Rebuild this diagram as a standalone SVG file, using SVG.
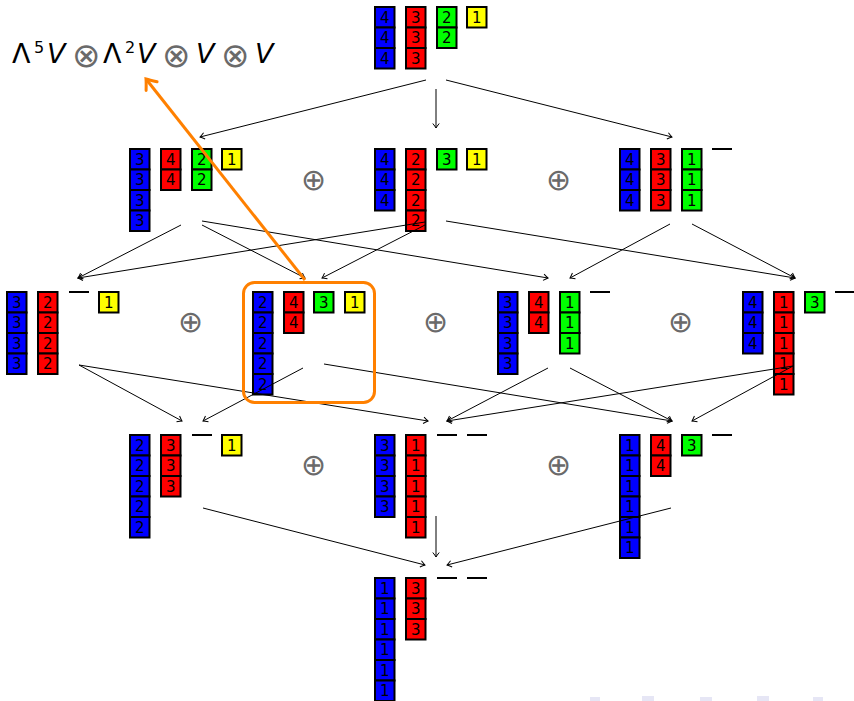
<svg xmlns="http://www.w3.org/2000/svg" width="854" height="701" viewBox="0 0 854 701">
  <defs>
    <style>
      .cell{stroke:#000;stroke-width:2}
      .b{fill:#0000ff}
      .r{fill:#ff0000}
      .g{fill:#00ff00}
      .y{fill:#ffff00}
      .n{font-family:"DejaVu Sans",sans-serif;font-size:15px;text-anchor:middle;fill:#000}
      .dash{stroke:#000;stroke-width:2}
      .edge{stroke:#000;stroke-width:1;fill:none;marker-end:url(#tip)}
      .sum{font-family:"DejaVu Sans",sans-serif;font-weight:200;font-size:30px;text-anchor:middle;fill:#6a6a6a}
      .f{font-family:"DejaVu Sans",sans-serif;font-size:27px;fill:#000}
      .ot{font-family:"DejaVu Sans",sans-serif;font-weight:200;font-size:34px;text-anchor:middle;fill:#6a6a6a}
      .hl{stroke:#ff8000;stroke-width:3;fill:none}
    </style>
    <marker id="tip" markerUnits="userSpaceOnUse" markerWidth="12" markerHeight="12" viewBox="-6 -6 12 12" refX="0" refY="0" orient="auto">
      <path d="M-4.5,-3.2 Q-1.6,-0.9 0,0 Q-1.6,0.9 -4.5,3.2" stroke="#000" stroke-width="1" fill="none"/>
    </marker>
    <marker id="otip" markerUnits="userSpaceOnUse" markerWidth="24" markerHeight="24" viewBox="-12 -12 24 24" refX="0" refY="0" orient="auto">
      <path d="M-9,-7 Q-3,-2 0,0 Q-3,2 -9,7" stroke="#ff8000" stroke-width="3" fill="none" stroke-linecap="round"/>
    </marker>
  </defs>

  <rect width="854" height="701" fill="#fff"/>

  <!-- formula label -->
  <g id="label">
    <text class="f" y="63"><tspan x="12">Λ</tspan><tspan x="34" y="53" font-size="16">5</tspan><tspan x="47" y="63" font-style="italic">V</tspan></text>
    <text class="ot" x="86" y="67">⊗</text>
    <text class="f" y="63"><tspan x="103">Λ</tspan><tspan x="125" y="53" font-size="16">2</tspan><tspan x="137" y="63" font-style="italic">V</tspan></text>
    <text class="ot" x="176" y="67">⊗</text>
    <text class="f" y="63" font-style="italic"><tspan x="196">V</tspan></text>
    <text class="ot" x="235" y="67">⊗</text>
    <text class="f" y="63" font-style="italic"><tspan x="255">V</tspan></text>
  </g>

  <!-- top: 444 | 333 | 22 | 1 -->
  <g id="n0" transform="translate(374,6)">
    <g><rect class="cell b" x="1" y="1" width="19.5" height="20.5"/><text class="n" x="10.75" y="16.5">4</text>
       <rect class="cell b" x="1" y="21.5" width="19.5" height="20.5"/><text class="n" x="10.75" y="37">4</text>
       <rect class="cell b" x="1" y="42" width="19.5" height="20.5"/><text class="n" x="10.75" y="57.5">4</text></g>
    <g transform="translate(31,0)"><rect class="cell r" x="1" y="1" width="19.5" height="20.5"/><text class="n" x="10.75" y="16.5">3</text>
       <rect class="cell r" x="1" y="21.5" width="19.5" height="20.5"/><text class="n" x="10.75" y="37">3</text>
       <rect class="cell r" x="1" y="42" width="19.5" height="20.5"/><text class="n" x="10.75" y="57.5">3</text></g>
    <g transform="translate(62,0)"><rect class="cell g" x="1" y="1" width="19.5" height="20.5"/><text class="n" x="10.75" y="16.5">2</text>
       <rect class="cell g" x="1" y="21.5" width="19.5" height="20.5"/><text class="n" x="10.75" y="37">2</text></g>
    <g transform="translate(92,0)"><rect class="cell y" x="1" y="1" width="19.5" height="20.5"/><text class="n" x="10.75" y="16.5">1</text></g>
  </g>

  <!-- second row -->
  <g id="n1a" transform="translate(129,148)">
    <g><rect class="cell b" x="1" y="1" width="19.5" height="20.5"/><text class="n" x="10.75" y="16.5">3</text>
       <rect class="cell b" x="1" y="21.5" width="19.5" height="20.5"/><text class="n" x="10.75" y="37">3</text>
       <rect class="cell b" x="1" y="42" width="19.5" height="20.5"/><text class="n" x="10.75" y="57.5">3</text>
       <rect class="cell b" x="1" y="62.5" width="19.5" height="20.5"/><text class="n" x="10.75" y="78">3</text></g>
    <g transform="translate(31,0)"><rect class="cell r" x="1" y="1" width="19.5" height="20.5"/><text class="n" x="10.75" y="16.5">4</text>
       <rect class="cell r" x="1" y="21.5" width="19.5" height="20.5"/><text class="n" x="10.75" y="37">4</text></g>
    <g transform="translate(62,0)"><rect class="cell g" x="1" y="1" width="19.5" height="20.5"/><text class="n" x="10.75" y="16.5">2</text>
       <rect class="cell g" x="1" y="21.5" width="19.5" height="20.5"/><text class="n" x="10.75" y="37">2</text></g>
    <g transform="translate(92,0)"><rect class="cell y" x="1" y="1" width="19.5" height="20.5"/><text class="n" x="10.75" y="16.5">1</text></g>
  </g>

  <g id="n1b" transform="translate(374,148)">
    <g><rect class="cell b" x="1" y="1" width="19.5" height="20.5"/><text class="n" x="10.75" y="16.5">4</text>
       <rect class="cell b" x="1" y="21.5" width="19.5" height="20.5"/><text class="n" x="10.75" y="37">4</text>
       <rect class="cell b" x="1" y="42" width="19.5" height="20.5"/><text class="n" x="10.75" y="57.5">4</text></g>
    <g transform="translate(31,0)"><rect class="cell r" x="1" y="1" width="19.5" height="20.5"/><text class="n" x="10.75" y="16.5">2</text>
       <rect class="cell r" x="1" y="21.5" width="19.5" height="20.5"/><text class="n" x="10.75" y="37">2</text>
       <rect class="cell r" x="1" y="42" width="19.5" height="20.5"/><text class="n" x="10.75" y="57.5">2</text>
       <rect class="cell r" x="1" y="62.5" width="19.5" height="20.5"/><text class="n" x="10.75" y="78">2</text></g>
    <g transform="translate(62,0)"><rect class="cell g" x="1" y="1" width="19.5" height="20.5"/><text class="n" x="10.75" y="16.5">3</text></g>
    <g transform="translate(92,0)"><rect class="cell y" x="1" y="1" width="19.5" height="20.5"/><text class="n" x="10.75" y="16.5">1</text></g>
  </g>

  <g id="n1c" transform="translate(619,148)">
    <g><rect class="cell b" x="1" y="1" width="19.5" height="20.5"/><text class="n" x="10.75" y="16.5">4</text>
       <rect class="cell b" x="1" y="21.5" width="19.5" height="20.5"/><text class="n" x="10.75" y="37">4</text>
       <rect class="cell b" x="1" y="42" width="19.5" height="20.5"/><text class="n" x="10.75" y="57.5">4</text></g>
    <g transform="translate(31,0)"><rect class="cell r" x="1" y="1" width="19.5" height="20.5"/><text class="n" x="10.75" y="16.5">3</text>
       <rect class="cell r" x="1" y="21.5" width="19.5" height="20.5"/><text class="n" x="10.75" y="37">3</text>
       <rect class="cell r" x="1" y="42" width="19.5" height="20.5"/><text class="n" x="10.75" y="57.5">3</text></g>
    <g transform="translate(62,0)"><rect class="cell g" x="1" y="1" width="19.5" height="20.5"/><text class="n" x="10.75" y="16.5">1</text>
       <rect class="cell g" x="1" y="21.5" width="19.5" height="20.5"/><text class="n" x="10.75" y="37">1</text>
       <rect class="cell g" x="1" y="42" width="19.5" height="20.5"/><text class="n" x="10.75" y="57.5">1</text></g>
    <line class="dash" x1="93" y1="1" x2="113" y2="1"/>
  </g>

  <!-- third row -->
  <g id="n2a" transform="translate(6,291)">
    <g><rect class="cell b" x="1" y="1" width="19.5" height="20.5"/><text class="n" x="10.75" y="16.5">3</text>
       <rect class="cell b" x="1" y="21.5" width="19.5" height="20.5"/><text class="n" x="10.75" y="37">3</text>
       <rect class="cell b" x="1" y="42" width="19.5" height="20.5"/><text class="n" x="10.75" y="57.5">3</text>
       <rect class="cell b" x="1" y="62.5" width="19.5" height="20.5"/><text class="n" x="10.75" y="78">3</text></g>
    <g transform="translate(31,0)"><rect class="cell r" x="1" y="1" width="19.5" height="20.5"/><text class="n" x="10.75" y="16.5">2</text>
       <rect class="cell r" x="1" y="21.5" width="19.5" height="20.5"/><text class="n" x="10.75" y="37">2</text>
       <rect class="cell r" x="1" y="42" width="19.5" height="20.5"/><text class="n" x="10.75" y="57.5">2</text>
       <rect class="cell r" x="1" y="62.5" width="19.5" height="20.5"/><text class="n" x="10.75" y="78">2</text></g>
    <line class="dash" x1="63" y1="1" x2="83" y2="1"/>
    <g transform="translate(92,0)"><rect class="cell y" x="1" y="1" width="19.5" height="20.5"/><text class="n" x="10.75" y="16.5">1</text></g>
  </g>

  <g id="n2b" transform="translate(252,291)">
    <g><rect class="cell b" x="1" y="1" width="19.5" height="20.5"/><text class="n" x="10.75" y="16.5">2</text>
       <rect class="cell b" x="1" y="21.5" width="19.5" height="20.5"/><text class="n" x="10.75" y="37">2</text>
       <rect class="cell b" x="1" y="42" width="19.5" height="20.5"/><text class="n" x="10.75" y="57.5">2</text>
       <rect class="cell b" x="1" y="62.5" width="19.5" height="20.5"/><text class="n" x="10.75" y="78">2</text>
       <rect class="cell b" x="1" y="83" width="19.5" height="20.5"/><text class="n" x="10.75" y="98.5">2</text></g>
    <g transform="translate(31,0)"><rect class="cell r" x="1" y="1" width="19.5" height="20.5"/><text class="n" x="10.75" y="16.5">4</text>
       <rect class="cell r" x="1" y="21.5" width="19.5" height="20.5"/><text class="n" x="10.75" y="37">4</text></g>
    <g transform="translate(61,0)"><rect class="cell g" x="1" y="1" width="19.5" height="20.5"/><text class="n" x="10.75" y="16.5">3</text></g>
    <g transform="translate(92,0)"><rect class="cell y" x="1" y="1" width="19.5" height="20.5"/><text class="n" x="10.75" y="16.5">1</text></g>
  </g>

  <g id="n2c" transform="translate(497,291)">
    <g><rect class="cell b" x="1" y="1" width="19.5" height="20.5"/><text class="n" x="10.75" y="16.5">3</text>
       <rect class="cell b" x="1" y="21.5" width="19.5" height="20.5"/><text class="n" x="10.75" y="37">3</text>
       <rect class="cell b" x="1" y="42" width="19.5" height="20.5"/><text class="n" x="10.75" y="57.5">3</text>
       <rect class="cell b" x="1" y="62.5" width="19.5" height="20.5"/><text class="n" x="10.75" y="78">3</text></g>
    <g transform="translate(31,0)"><rect class="cell r" x="1" y="1" width="19.5" height="20.5"/><text class="n" x="10.75" y="16.5">4</text>
       <rect class="cell r" x="1" y="21.5" width="19.5" height="20.5"/><text class="n" x="10.75" y="37">4</text></g>
    <g transform="translate(62,0)"><rect class="cell g" x="1" y="1" width="19.5" height="20.5"/><text class="n" x="10.75" y="16.5">1</text>
       <rect class="cell g" x="1" y="21.5" width="19.5" height="20.5"/><text class="n" x="10.75" y="37">1</text>
       <rect class="cell g" x="1" y="42" width="19.5" height="20.5"/><text class="n" x="10.75" y="57.5">1</text></g>
    <line class="dash" x1="93" y1="1" x2="113" y2="1"/>
  </g>

  <g id="n2d" transform="translate(742,291)">
    <g><rect class="cell b" x="1" y="1" width="19.5" height="20.5"/><text class="n" x="10.75" y="16.5">4</text>
       <rect class="cell b" x="1" y="21.5" width="19.5" height="20.5"/><text class="n" x="10.75" y="37">4</text>
       <rect class="cell b" x="1" y="42" width="19.5" height="20.5"/><text class="n" x="10.75" y="57.5">4</text></g>
    <g transform="translate(31,0)"><rect class="cell r" x="1" y="1" width="19.5" height="20.5"/><text class="n" x="10.75" y="16.5">1</text>
       <rect class="cell r" x="1" y="21.5" width="19.5" height="20.5"/><text class="n" x="10.75" y="37">1</text>
       <rect class="cell r" x="1" y="42" width="19.5" height="20.5"/><text class="n" x="10.75" y="57.5">1</text>
       <rect class="cell r" x="1" y="62.5" width="19.5" height="20.5"/><text class="n" x="10.75" y="78">1</text>
       <rect class="cell r" x="1" y="83" width="19.5" height="20.5"/><text class="n" x="10.75" y="98.5">1</text></g>
    <g transform="translate(62,0)"><rect class="cell g" x="1" y="1" width="19.5" height="20.5"/><text class="n" x="10.75" y="16.5">3</text></g>
    <line class="dash" x1="93" y1="1" x2="113" y2="1"/>
  </g>

  <!-- fourth row -->
  <g id="n3a" transform="translate(129,434)">
    <g><rect class="cell b" x="1" y="1" width="19.5" height="20.5"/><text class="n" x="10.75" y="16.5">2</text>
       <rect class="cell b" x="1" y="21.5" width="19.5" height="20.5"/><text class="n" x="10.75" y="37">2</text>
       <rect class="cell b" x="1" y="42" width="19.5" height="20.5"/><text class="n" x="10.75" y="57.5">2</text>
       <rect class="cell b" x="1" y="62.5" width="19.5" height="20.5"/><text class="n" x="10.75" y="78">2</text>
       <rect class="cell b" x="1" y="83" width="19.5" height="20.5"/><text class="n" x="10.75" y="98.5">2</text></g>
    <g transform="translate(31,0)"><rect class="cell r" x="1" y="1" width="19.5" height="20.5"/><text class="n" x="10.75" y="16.5">3</text>
       <rect class="cell r" x="1" y="21.5" width="19.5" height="20.5"/><text class="n" x="10.75" y="37">3</text>
       <rect class="cell r" x="1" y="42" width="19.5" height="20.5"/><text class="n" x="10.75" y="57.5">3</text></g>
    <line class="dash" x1="63" y1="1" x2="83" y2="1"/>
    <g transform="translate(92,0)"><rect class="cell y" x="1" y="1" width="19.5" height="20.5"/><text class="n" x="10.75" y="16.5">1</text></g>
  </g>

  <g id="n3b" transform="translate(374,434)">
    <g><rect class="cell b" x="1" y="1" width="19.5" height="20.5"/><text class="n" x="10.75" y="16.5">3</text>
       <rect class="cell b" x="1" y="21.5" width="19.5" height="20.5"/><text class="n" x="10.75" y="37">3</text>
       <rect class="cell b" x="1" y="42" width="19.5" height="20.5"/><text class="n" x="10.75" y="57.5">3</text>
       <rect class="cell b" x="1" y="62.5" width="19.5" height="20.5"/><text class="n" x="10.75" y="78">3</text></g>
    <g transform="translate(31,0)"><rect class="cell r" x="1" y="1" width="19.5" height="20.5"/><text class="n" x="10.75" y="16.5">1</text>
       <rect class="cell r" x="1" y="21.5" width="19.5" height="20.5"/><text class="n" x="10.75" y="37">1</text>
       <rect class="cell r" x="1" y="42" width="19.5" height="20.5"/><text class="n" x="10.75" y="57.5">1</text>
       <rect class="cell r" x="1" y="62.5" width="19.5" height="20.5"/><text class="n" x="10.75" y="78">1</text>
       <rect class="cell r" x="1" y="83" width="19.5" height="20.5"/><text class="n" x="10.75" y="98.5">1</text></g>
    <line class="dash" x1="63" y1="1" x2="83" y2="1"/>
    <line class="dash" x1="93" y1="1" x2="113" y2="1"/>
  </g>

  <g id="n3c" transform="translate(619,434)">
    <g><rect class="cell b" x="1" y="1" width="19.5" height="20.5"/><text class="n" x="10.75" y="16.5">1</text>
       <rect class="cell b" x="1" y="21.5" width="19.5" height="20.5"/><text class="n" x="10.75" y="37">1</text>
       <rect class="cell b" x="1" y="42" width="19.5" height="20.5"/><text class="n" x="10.75" y="57.5">1</text>
       <rect class="cell b" x="1" y="62.5" width="19.5" height="20.5"/><text class="n" x="10.75" y="78">1</text>
       <rect class="cell b" x="1" y="83" width="19.5" height="20.5"/><text class="n" x="10.75" y="98.5">1</text>
       <rect class="cell b" x="1" y="103.5" width="19.5" height="20.5"/><text class="n" x="10.75" y="119">1</text></g>
    <g transform="translate(31,0)"><rect class="cell r" x="1" y="1" width="19.5" height="20.5"/><text class="n" x="10.75" y="16.5">4</text>
       <rect class="cell r" x="1" y="21.5" width="19.5" height="20.5"/><text class="n" x="10.75" y="37">4</text></g>
    <g transform="translate(62,0)"><rect class="cell g" x="1" y="1" width="19.5" height="20.5"/><text class="n" x="10.75" y="16.5">3</text></g>
    <line class="dash" x1="93" y1="1" x2="113" y2="1"/>
  </g>

  <!-- bottom -->
  <g id="n4" transform="translate(374,577)">
    <g><rect class="cell b" x="1" y="1" width="19.5" height="20.5"/><text class="n" x="10.75" y="16.5">1</text>
       <rect class="cell b" x="1" y="21.5" width="19.5" height="20.5"/><text class="n" x="10.75" y="37">1</text>
       <rect class="cell b" x="1" y="42" width="19.5" height="20.5"/><text class="n" x="10.75" y="57.5">1</text>
       <rect class="cell b" x="1" y="62.5" width="19.5" height="20.5"/><text class="n" x="10.75" y="78">1</text>
       <rect class="cell b" x="1" y="83" width="19.5" height="20.5"/><text class="n" x="10.75" y="98.5">1</text>
       <rect class="cell b" x="1" y="103.5" width="19.5" height="20.5"/><text class="n" x="10.75" y="119">1</text></g>
    <g transform="translate(31,0)"><rect class="cell r" x="1" y="1" width="19.5" height="20.5"/><text class="n" x="10.75" y="16.5">3</text>
       <rect class="cell r" x="1" y="21.5" width="19.5" height="20.5"/><text class="n" x="10.75" y="37">3</text>
       <rect class="cell r" x="1" y="42" width="19.5" height="20.5"/><text class="n" x="10.75" y="57.5">3</text></g>
    <line class="dash" x1="63" y1="1" x2="83" y2="1"/>
    <line class="dash" x1="93" y1="1" x2="113" y2="1"/>
  </g>

  <!-- direct sums between summands -->
  <g id="sums">
    <text class="sum" x="313" y="190">⊕</text>
    <text class="sum" x="558" y="190">⊕</text>
    <text class="sum" x="190" y="332">⊕</text>
    <text class="sum" x="435" y="332">⊕</text>
    <text class="sum" x="680" y="332">⊕</text>
    <text class="sum" x="313" y="475">⊕</text>
    <text class="sum" x="558" y="475">⊕</text>
  </g>

  <!-- maps between levels -->
  <g id="edges">
    <line class="edge" x1="426" y1="80" x2="200" y2="137"/>
    <line class="edge" x1="436" y1="89" x2="436" y2="128"/>
    <line class="edge" x1="446" y1="80" x2="672" y2="137"/>

    <line class="edge" x1="181" y1="225" x2="78" y2="278"/>
    <line class="edge" x1="202" y1="225" x2="305" y2="278"/>
    <line class="edge" x1="202" y1="221" x2="548" y2="278"/>
    <line class="edge" x1="425" y1="222" x2="78" y2="278"/>
    <line class="edge" x1="425" y1="225" x2="322" y2="278"/>
    <line class="edge" x1="446" y1="221" x2="795" y2="278"/>
    <line class="edge" x1="670" y1="224" x2="570" y2="278"/>
    <line class="edge" x1="692" y1="224" x2="795" y2="278"/>

    <line class="edge" x1="79" y1="365" x2="182" y2="421"/>
    <line class="edge" x1="79" y1="365" x2="428" y2="421"/>
    <line class="edge" x1="303" y1="368" x2="203" y2="421"/>
    <line class="edge" x1="324" y1="364" x2="672" y2="421"/>
    <line class="edge" x1="548" y1="368" x2="447" y2="421"/>
    <line class="edge" x1="570" y1="368" x2="672" y2="421"/>
    <line class="edge" x1="793" y1="366" x2="447" y2="421"/>
    <line class="edge" x1="793" y1="366" x2="692" y2="421"/>

    <line class="edge" x1="203" y1="508" x2="425" y2="565"/>
    <line class="edge" x1="436" y1="516" x2="436" y2="557"/>
    <line class="edge" x1="671" y1="508" x2="447" y2="565"/>
  </g>

  <!-- highlighted summand and its pointer -->
  <g id="highlight">
    <rect class="hl" x="243.5" y="282.5" width="131" height="120" rx="11"/>
    <line class="hl" x1="305" y1="280" x2="146" y2="79" marker-end="url(#otip)"/>
  </g>

  <!-- faint navigation marks along the bottom edge -->
  <g id="nav" fill="#e6e6f5">
    <rect x="590" y="697" width="10" height="4"/>
    <rect x="642" y="696" width="12" height="5"/>
    <rect x="700" y="697" width="12" height="4"/>
    <rect x="757" y="696" width="12" height="5"/>
    <rect x="813" y="697" width="10" height="4"/>
  </g>
</svg>
